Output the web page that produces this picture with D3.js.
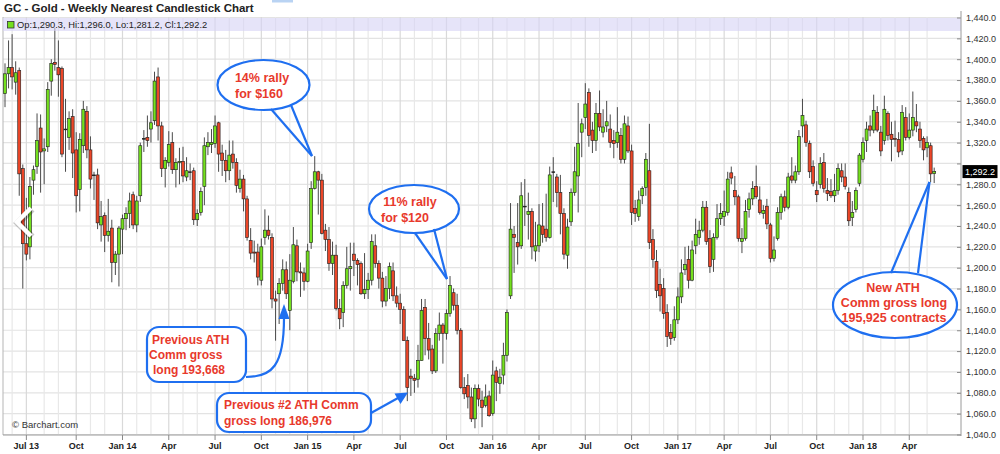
<!DOCTYPE html>
<html><head><meta charset="utf-8">
<script src="https://cdn.jsdelivr.net/npm/d3@7"></script>
<style>
body{margin:0;background:#fff;}
svg{display:block;font-family:"Liberation Sans",Arial,sans-serif;}
</style>
</head><body>
<svg id="c" width="1000" height="454"></svg>
<script>
// ---------- DATA ----------
const firstWeek = "2013-05-20";
const lastWeek = "2018-05-21";
const opens = [
1367,1386,1392,1378,1389,1295,1223,1220,1284,1297,
1334,1312,1316,1379,1397,1392,1391,1333,1325,1345,
1313,1275,1317,1350,1313,1289,1289,1241,1250,1231,
1238,1205,1213,1237,1247,1252,1270,1241,1269,1324,
1325,1333,1341,1383,1336,1295,1301,1320,1294,1301,
1302,1287,1292,1293,1246,1253,1278,1316,1318,1319,
1339,1310,1303,1293,1309,1301,1276,1285,1266,1226,
1215,1215,1188,1229,1236,1229,1170,1175,1185,1198,
1159,1187,1221,1196,1195,1187,1224,1276,1292,1284,
1236,1227,1204,1212,1161,1157,1183,1199,1213,1207,
1204,1175,1179,1188,1221,1204,1190,1168,1180,1197,
1173,1166,1160,1130,1096,1094,1093,1111,1162,1132,
1122,1101,1137,1145,1137,1156,1176,1164,1140,1085,
1087,1076,1055,1084,1073,1068,1077,1060,1101,1089,
1097,1116,1173,1232,1224,1221,1259,1251,1254,1216,
1221,1240,1237,1229,1292,1287,1272,1252,1212,1244,
1272,1288,1330,1344,1368,1332,1322,1348,1330,1336,
1333,1322,1320,1327,1304,1336,1312,1257,1249,1269,
1277,1293,1227,1206,1184,1180,1157,1138,1133,1150,
1172,1198,1208,1188,1221,1229,1236,1258,1228,1208,
1229,1247,1249,1253,1291,1274,1268,1225,1228,1256,
1266,1278,1265,1252,1259,1241,1209,1228,1253,1268,
1258,1288,1284,1292,1336,1337,1319,1297,1274,1280,
1301,1274,1273,1269,1274,1293,1287,1272,1248,1256,
1281,1304,1322,1336,1332,1349,1330,1322,1348,1328,
1324,1323,1312,1344,1325,1332,1340,1333,1324,1315,
1317,1290.3];
const highs = [
1396,1418,1424,1398,1392,1299,1267,1287,1298,1348,
1347,1324,1378,1400,1430,1418,1393,1362,1350,1352,
1330,1329,1360,1355,1326,1292,1295,1264,1253,1266,
1246,1216,1240,1251,1258,1272,1273,1269,1320,1332,
1346,1350,1388,1392,1340,1306,1331,1330,1305,1315,
1316,1306,1300,1296,1256,1277,1325,1330,1333,1346,
1340,1318,1313,1322,1322,1305,1294,1289,1269,1238,
1226,1223,1228,1256,1250,1233,1178,1190,1208,1206,
1213,1239,1227,1205,1200,1223,1283,1307,1293,1290,
1242,1239,1225,1222,1170,1187,1220,1224,1224,1209,
1206,1214,1195,1232,1232,1207,1196,1192,1205,1205,
1182,1175,1163,1134,1103,1098,1126,1170,1170,1147,
1126,1142,1157,1147,1160,1192,1180,1175,1142,1095,
1098,1085,1088,1088,1082,1088,1082,1111,1105,1103,
1128,1160,1262,1240,1262,1282,1285,1272,1257,1244,
1261,1262,1271,1297,1306,1290,1289,1257,1247,1276,
1316,1358,1343,1377,1372,1340,1358,1370,1352,1360,
1347,1332,1354,1334,1346,1345,1318,1265,1274,1278,
1310,1338,1237,1217,1199,1190,1165,1146,1163,1181,
1208,1220,1221,1226,1247,1245,1264,1264,1236,1233,
1261,1262,1274,1292,1297,1288,1270,1238,1265,1272,
1283,1298,1278,1260,1266,1243,1230,1258,1271,1274,
1291,1306,1298,1332,1362,1341,1322,1303,1283,1306,
1310,1286,1285,1290,1300,1300,1300,1277,1264,1277,
1310,1325,1340,1346,1366,1355,1336,1365,1350,1340,
1341,1330,1356,1354,1348,1369,1357,1340,1326,1326,
1320,1296.0];
const lows = [
1354,1372,1371,1366,1269,1180,1207,1208,1270,1290,
1272,1280,1311,1365,1389,1364,1306,1292,1313,1286,
1253,1254,1310,1305,1276,1265,1237,1225,1215,1225,
1186,1193,1182,1213,1236,1238,1237,1234,1263,1311,
1316,1320,1337,1322,1287,1277,1297,1290,1277,1280,
1282,1283,1284,1241,1240,1250,1260,1308,1310,1315,
1292,1288,1282,1284,1295,1272,1272,1254,1226,1208,
1205,1183,1183,1222,1227,1161,1130,1146,1178,1170,
1140,1185,1187,1172,1178,1186,1218,1275,1251,1232,
1216,1197,1193,1159,1141,1143,1180,1178,1192,1183,
1174,1170,1170,1183,1200,1180,1162,1163,1170,1168,
1162,1146,1130,1072,1077,1080,1085,1111,1116,1112,
1098,1099,1130,1108,1131,1153,1159,1136,1084,1074,
1065,1052,1046,1067,1047,1066,1057,1058,1072,1079,
1088,1110,1170,1195,1203,1218,1240,1227,1208,1206,
1215,1224,1225,1228,1263,1258,1232,1208,1199,1240,
1269,1253,1306,1333,1316,1310,1312,1331,1325,1330,
1315,1305,1315,1300,1300,1310,1241,1244,1245,1261,
1269,1218,1200,1171,1158,1151,1124,1126,1130,1146,
1166,1193,1180,1187,1213,1222,1234,1222,1195,1196,
1227,1241,1240,1250,1280,1260,1225,1214,1226,1248,
1260,1266,1251,1247,1237,1205,1206,1226,1246,1254,
1256,1281,1281,1289,1325,1316,1286,1278,1263,1276,
1272,1264,1267,1263,1270,1282,1275,1240,1240,1253,
1278,1301,1311,1326,1329,1330,1307,1318,1322,1302,
1316,1306,1308,1322,1323,1326,1330,1315,1303,1306,
1282,1281.2];
const closes = [
1386,1392,1383,1387,1290,1223,1213,1278,1294,1322,
1311,1314,1371,1396,1395,1385,1309,1333,1343,1310,
1269,1323,1352,1313,1285,1289,1243,1249,1231,1235,
1205,1213,1238,1247,1252,1264,1241,1264,1317,1324,
1322,1339,1379,1336,1295,1303,1318,1294,1301,1302,
1288,1293,1292,1246,1252,1273,1317,1320,1320,1336,
1309,1303,1293,1308,1301,1279,1285,1266,1229,1214,
1214,1191,1220,1236,1231,1170,1168,1185,1198,1175,
1188,1222,1196,1195,1187,1216,1276,1292,1284,1233,
1227,1204,1212,1161,1151,1183,1199,1201,1207,1203,
1175,1179,1188,1225,1204,1190,1168,1180,1201,1173,
1166,1160,1130,1085,1094,1092,1111,1159,1132,1121,
1101,1137,1145,1137,1156,1183,1164,1140,1085,1079,
1076,1055,1084,1074,1066,1076,1058,1097,1090,1095,
1116,1157,1237,1229,1220,1269,1259,1254,1220,1221,
1241,1232,1229,1289,1292,1272,1252,1213,1239,1272,
1292,1319,1338,1357,1327,1322,1348,1335,1335,1340,
1320,1319,1330,1304,1338,1312,1253,1252,1265,1276,
1304,1224,1208,1178,1173,1156,1134,1132,1150,1172,
1195,1203,1188,1217,1232,1236,1258,1225,1201,1229,
1247,1252,1254,1285,1286,1268,1228,1228,1254,1266,
1276,1268,1253,1255,1242,1209,1217,1253,1268,1258,
1287,1284,1292,1326,1346,1320,1292,1281,1270,1300,
1276,1271,1269,1274,1295,1287,1278,1245,1253,1274,
1308,1320,1333,1332,1351,1332,1312,1352,1327,1323,
1323,1311,1349,1325,1332,1344,1336,1322,1313,1320,
1290,1292.2];
const yTicks = [1040,1060,1080,1100,1120,1140,1160,1180,1200,1220,1240,1260,1280,1300,1320,1340,1360,1380,1400,1420,1440];
const quarterMonths = ["2013-07","2013-10","2014-01","2014-04","2014-07","2014-10","2015-01","2015-04","2015-07","2015-10","2016-01","2016-04","2016-07","2016-10","2017-01","2017-04","2017-07","2017-10","2018-01","2018-04"];
const quarterLabels = ["Jul 13","Oct","Jan 14","Apr","Jul","Oct","Jan 15","Apr","Jul","Oct","Jan 16","Apr","Jul","Oct","Jan 17","Apr","Jul","Oct","Jan 18","Apr"];
const titleText = "GC - Gold - Weekly Nearest Candlestick Chart";
const infoText = "Op:1,290.3, Hi:1,296.0, Lo:1,281.2, Cl:1,292.2";

// ---------- SETUP ----------
const svg = d3.select("#c");
const P = {l:3, r:961, t:17, b:435};
const parse = d3.timeParse("%Y-%m-%d");
const weeks = d3.timeMonday.range(parse(firstWeek), d3.timeDay.offset(parse(lastWeek), 1));
const n = closes.length;
const idx = d3.range(n);
const x = d3.scalePoint().domain(idx).range([5, 934.2]);
const y = d3.scaleLinear().domain([1040, 1440]).range([434.5, 17.5]);
const firstIdx = m => weeks.findIndex(d => d >= m);
const GREEN = "#74e01e", RED = "#ec4628", BLUE = "#1f6ff0", TXT_RED = "#e8392c";

// gridlines
const grid = svg.append("g");
grid.selectAll("line.h").data(yTicks).join("line")
  .attr("x1", P.l).attr("x2", P.r).attr("y1", d => y(d)).attr("y2", d => y(d))
  .attr("stroke", "#e3e3e3").attr("stroke-width", 1.2);
const months = d3.timeMonth.range(new Date(2013, 5, 1), new Date(2018, 5, 1));
grid.selectAll("line.v").data(months).join("line")
  .each(function(m){
    const i = firstIdx(m);
    const q = m.getMonth() % 3 === 0;
    d3.select(this).attr("x1", x(i)).attr("x2", x(i)).attr("y1", P.t).attr("y2", P.b)
      .attr("stroke", q ? "#d9d9d9" : "#e8e8e8").attr("stroke-width", 1.2);
  });

// frame
svg.append("line").attr("x1", P.l).attr("x2", P.l).attr("y1", P.t).attr("y2", P.b).attr("stroke", "#b5b5b5");
svg.append("line").attr("x1", P.l).attr("x2", P.r).attr("y1", P.b).attr("y2", P.b).attr("stroke", "#9a9a9a");

// candles
const cg = svg.append("g");
cg.selectAll("line.wick").data(idx).join("line")
  .attr("x1", i => x(i)).attr("x2", i => x(i))
  .attr("y1", i => y(Math.max(highs[i], opens[i], closes[i])))
  .attr("y2", i => y(Math.min(lows[i], opens[i], closes[i])))
  .attr("stroke", "#4a4a4a").attr("stroke-width", 1);
cg.selectAll("rect.body").data(idx).join("rect")
  .attr("x", i => x(i) - 1.5).attr("width", 3)
  .attr("y", i => y(Math.max(opens[i], closes[i])))
  .attr("height", i => Math.max(0.8, Math.abs(y(opens[i]) - y(closes[i]))))
  .attr("fill", i => closes[i] > opens[i] ? GREEN : (closes[i] < opens[i] ? RED : "#222"))
  .attr("stroke", "#1c1c1c").attr("stroke-width", 0.6);

// header
svg.append("rect").attr("x", 272).attr("y", 0).attr("width", 21).attr("height", 2.5).attr("fill", "#b9d3f3");
svg.append("text").attr("x", 4).attr("y", 12).attr("font-size", 11.5).attr("font-weight", "bold")
  .attr("fill", "#222").text(titleText);
svg.append("rect").attr("x", P.l).attr("y", 18).attr("width", P.r - P.l).attr("height", 13)
  .attr("fill", "rgba(214,211,246,0.62)");
svg.append("rect").attr("x", 7.5).attr("y", 21.5).attr("width", 6.5).attr("height", 6.5)
  .attr("fill", GREEN).attr("stroke", "#333").attr("stroke-width", 0.8);
svg.append("text").attr("x", 17).attr("y", 28).attr("font-size", 9.3).attr("fill", "#222").text(infoText);

// right axis
const lastClose = closes[n - 1];
const ay = svg.append("g").attr("transform", `translate(${P.r},0)`)
  .call(d3.axisRight(y).tickValues(yTicks).tickSizeInner(-4).tickSizeOuter(0).tickPadding(5)
    .tickFormat(d => Math.abs(d - lastClose) < 9 ? "" : d3.format(",.1f")(d)));
ay.select(".domain").remove();
ay.selectAll("line").attr("stroke", "#888");
ay.selectAll("text").attr("font-size", 9).attr("fill", "#333").attr("font-family", "Liberation Sans, Arial, sans-serif");
svg.append("line").attr("x1", P.r).attr("x2", P.r).attr("y1", 11).attr("y2", P.b + 1).attr("stroke", "#9a9a9a");
svg.append("rect").attr("x", 962.5).attr("y", y(lastClose) - 6.5).attr("width", 35).attr("height", 13).attr("fill", "#000");
svg.append("text").attr("x", 965).attr("y", y(lastClose) + 3.3).attr("font-size", 9).attr("fill", "#fff")
  .text(d3.format(",.1f")(lastClose));

// bottom axis
const qp = d3.timeParse("%Y-%m");
const qIdx = quarterMonths.map(s => firstIdx(qp(s)));
const bx = svg.append("g");
bx.selectAll("line").data(qIdx).join("line")
  .attr("x1", i => x(i)).attr("x2", i => x(i)).attr("y1", P.b).attr("y2", P.b + 5).attr("stroke", "#888");
bx.selectAll("text").data(quarterLabels).join("text")
  .attr("x", (d, k) => x(qIdx[k])).attr("y", 449).attr("text-anchor", "middle")
  .attr("font-size", 9).attr("font-weight", "bold").attr("fill", "#222").text(d => d);

// copyright
svg.append("text").attr("x", 12).attr("y", 428).attr("font-size", 9.5).attr("fill", "#333").text("\u00a9 Barchart.com");

// left chevron
svg.append("path").attr("d", "M31,208 L17,222 L31,236").attr("fill", "none")
  .attr("stroke", "rgba(0,0,0,0.22)").attr("stroke-width", 7).attr("transform", "translate(1,1)");
svg.append("path").attr("d", "M31,208 L17,222 L31,236").attr("fill", "none")
  .attr("stroke", "#fff").attr("stroke-width", 4.5);

// ---------- ANNOTATIONS ----------
const ann = svg.append("g").attr("font-weight", "bold").attr("fill", TXT_RED);
function ellipseCallout(cx, cy, rx, ry, tail, lines, fs, lh, ty) {
  ann.append("ellipse").attr("cx", cx).attr("cy", cy).attr("rx", rx).attr("ry", ry)
    .attr("fill", "#fff").attr("stroke", BLUE).attr("stroke-width", 2.2);
  tail.base.forEach(b => ann.append("line").attr("x1", b[0]).attr("y1", b[1])
    .attr("x2", tail.tip[0]).attr("y2", tail.tip[1]).attr("stroke", BLUE).attr("stroke-width", 2.2));
  lines.forEach((t, k) => ann.append("text").attr("x", t[1]).attr("y", ty + k * lh)
    .attr("text-anchor", "middle").attr("font-size", fs).text(t[0]));
}
ellipseCallout(263.5, 85, 46, 25, {base: [[271, 109], [291, 105]], tip: [312, 156]},
  [["14% rally", 262], ["for $160", 259]], 12.5, 16, 82);
ellipseCallout(414, 209, 45, 24, {base: [[415, 233], [434, 229]], tip: [447, 279]},
  [["11% rally", 410], ["for $120", 405]], 12.5, 16, 206);
ellipseCallout(895, 305, 62, 33, {base: [[891, 273], [918, 273]], tip: [929.5, 182]},
  [["New ATH", 893], ["Comm gross long", 894], ["195,925 contracts", 894]], 12.5, 15, 292);

// boxes
ann.append("rect").attr("x", 147).attr("y", 327).attr("width", 99).attr("height", 55).attr("rx", 12)
  .attr("fill", "#fff").attr("stroke", BLUE).attr("stroke-width", 2.2);
[["Previous ATH", 152, 344], ["Comm gross", 149, 359], ["long 193,668", 153, 374]].forEach(t =>
  ann.append("text").attr("x", t[1]).attr("y", t[2]).attr("font-size", 12).text(t[0]));
ann.append("path").attr("d", "M246,377 C272,377 284,366 284,318").attr("fill", "none")
  .attr("stroke", BLUE).attr("stroke-width", 2.2);
ann.append("path").attr("d", "M284,304 L278.5,319 L289.5,319 Z").attr("fill", BLUE);

ann.append("rect").attr("x", 217).attr("y", 393).attr("width", 154).attr("height", 39).attr("rx", 12)
  .attr("fill", "#fff").attr("stroke", BLUE).attr("stroke-width", 2.2);
[["Previous #2 ATH Comm", 224, 409], ["gross long 186,976", 224, 425]].forEach(t =>
  ann.append("text").attr("x", t[1]).attr("y", t[2]).attr("font-size", 12).text(t[0]));
ann.append("line").attr("x1", 371).attr("y1", 413).attr("x2", 398).attr("y2", 398)
  .attr("stroke", BLUE).attr("stroke-width", 2.2);
ann.append("path").attr("d", "M408,392.5 L394.5,393.5 L400.5,404 Z").attr("fill", BLUE);
</script>
</body></html>
